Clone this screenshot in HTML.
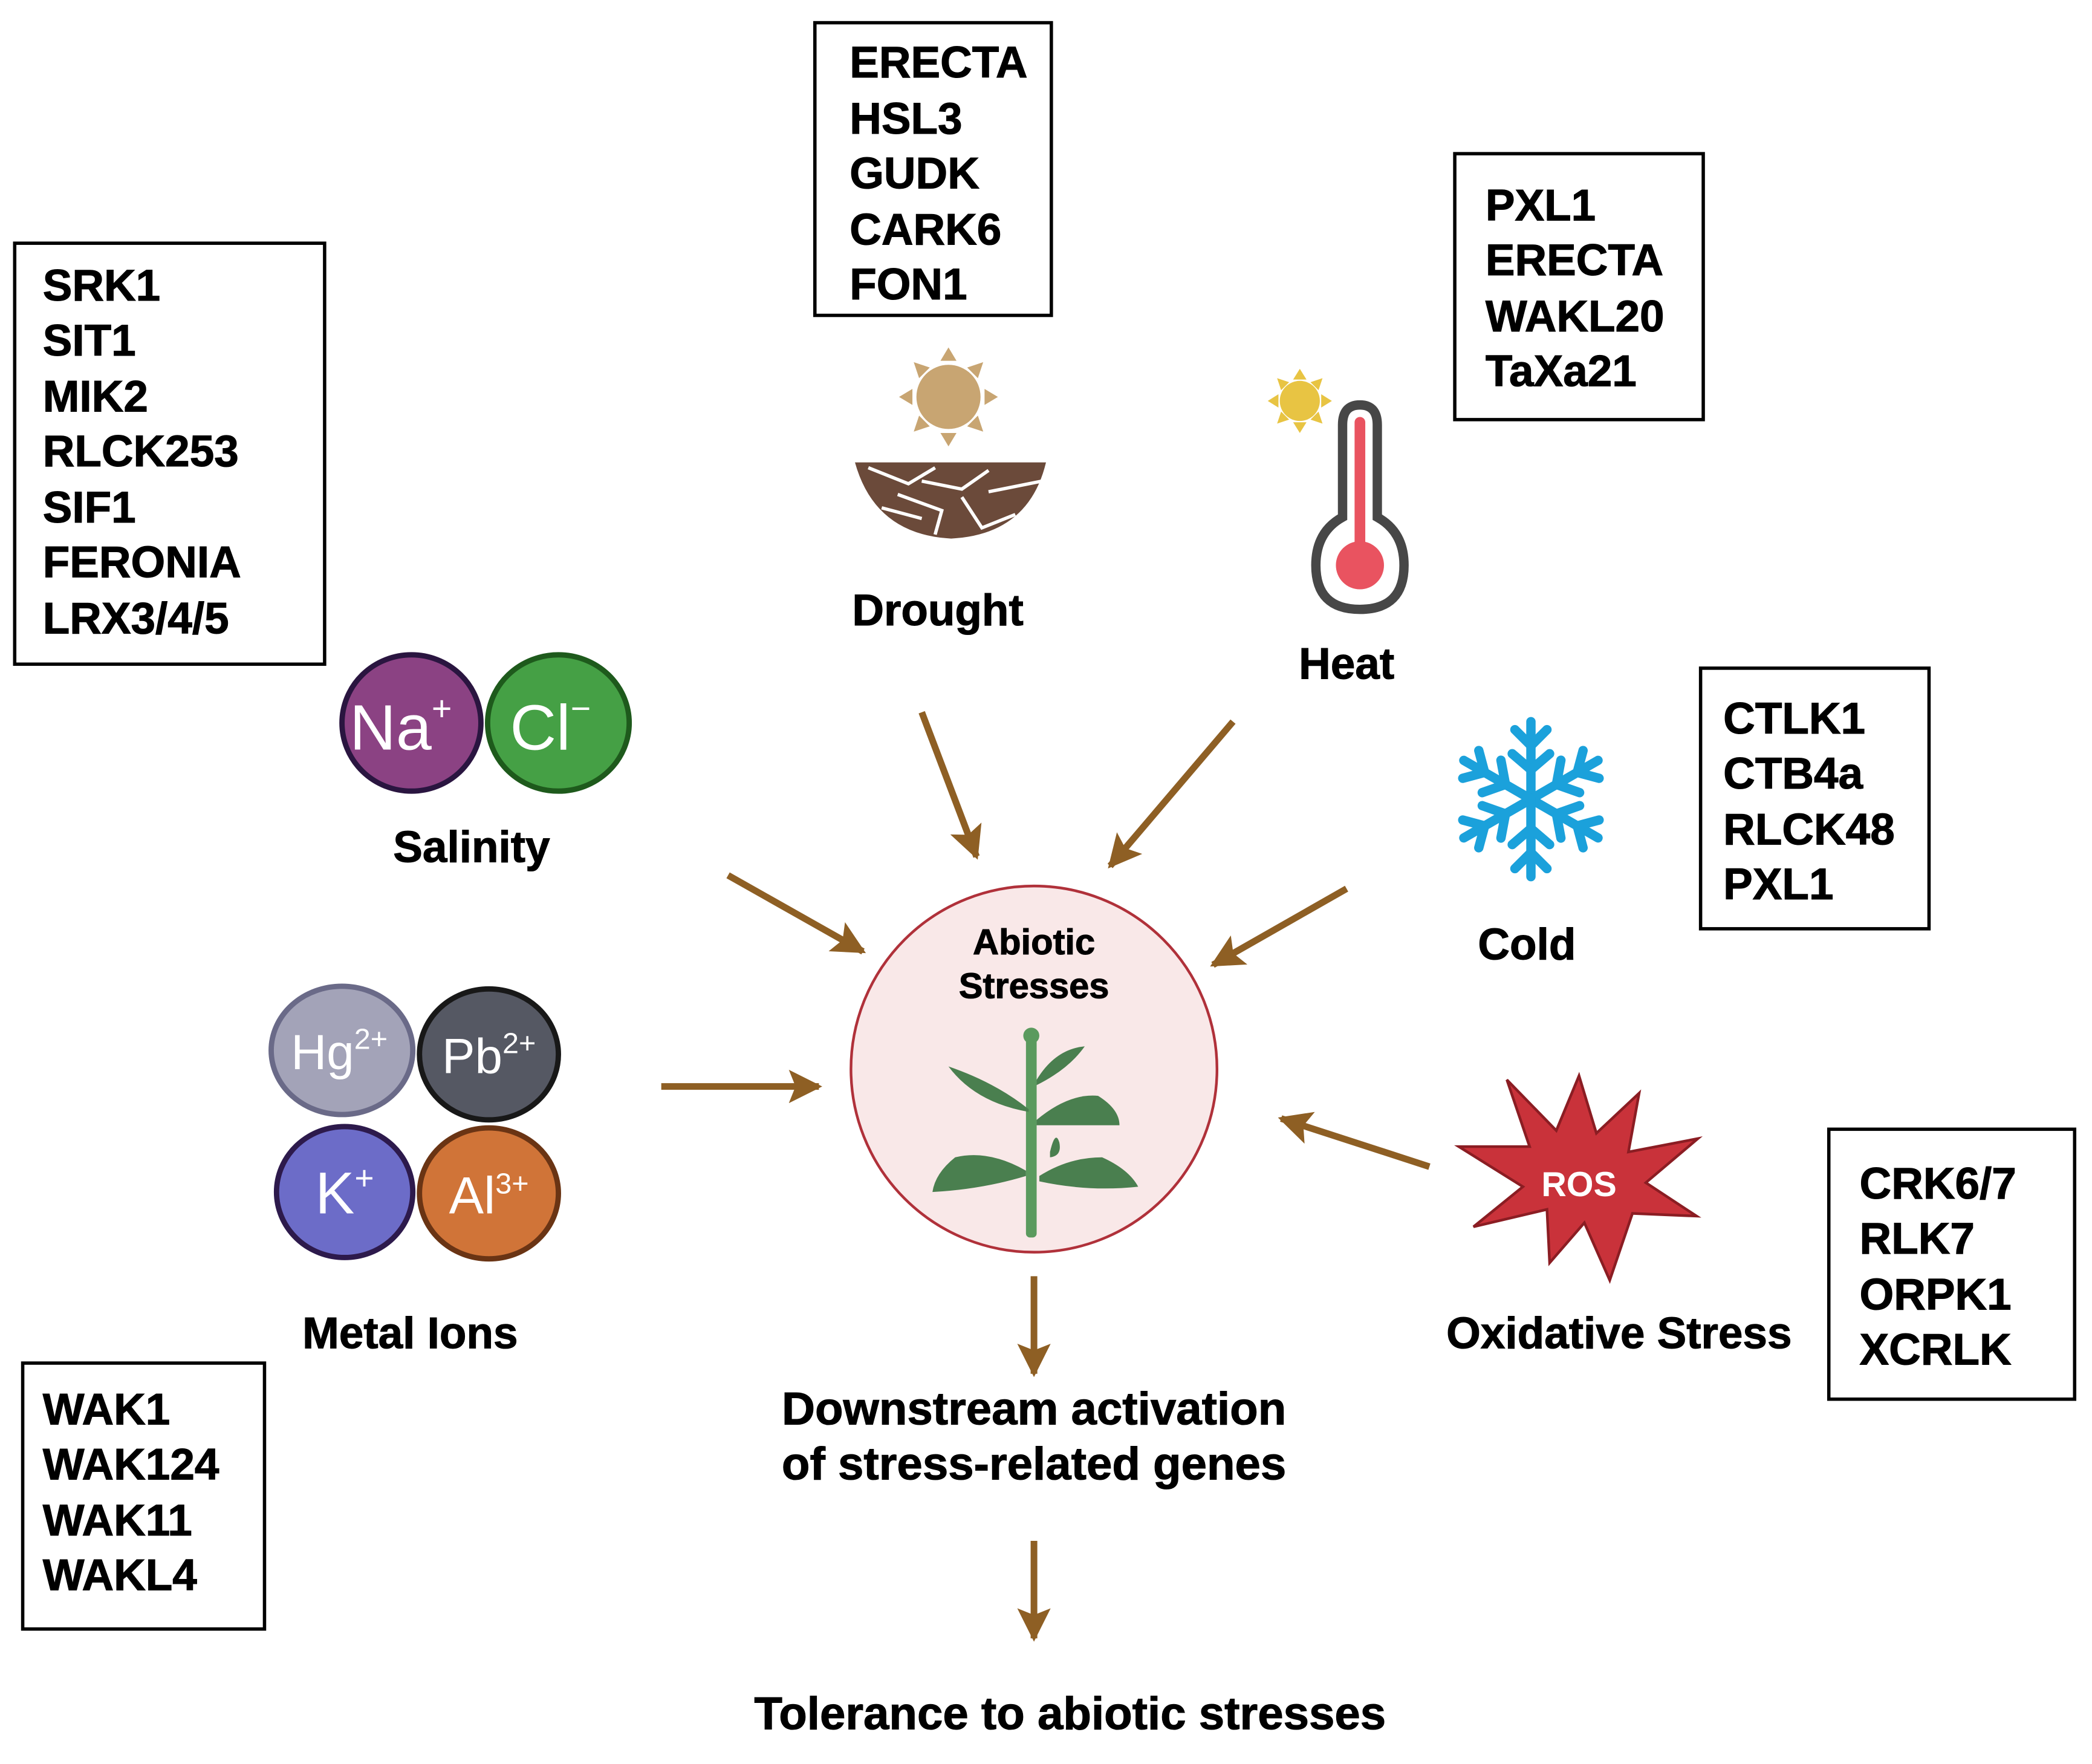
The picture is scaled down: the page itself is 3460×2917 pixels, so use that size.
<!DOCTYPE html>
<html><head><meta charset="utf-8"><style>
html,body{margin:0;padding:0;background:#fff;}
svg{display:block;}
text{font-family:"Liberation Sans",sans-serif;}
.b{font-weight:bold;fill:#000;stroke:#000;stroke-width:0.5;}
</style></head><body>
<svg width="3460" height="2917" viewBox="0 0 1566 1320" preserveAspectRatio="none" xmlns="http://www.w3.org/2000/svg">
<defs>
<marker id="ah" viewBox="0 0 10 10" refX="9" refY="5" markerWidth="5" markerHeight="5" orient="auto" markerUnits="strokeWidth">
<path d="M0,0 L10,5 L0,10 L2,5 z" fill="#8E5F24"/></marker>
</defs>
<g fill="none" stroke="#000" stroke-width="2.5">
<rect x="11" y="182" width="232" height="315"/>
<rect x="610" y="17" width="177" height="219"/>
<rect x="1089" y="115" width="186" height="199"/>
<rect x="1273" y="500" width="171" height="195"/>
<rect x="1369" y="845" width="184" height="202"/>
<rect x="17" y="1020" width="181" height="199"/>
</g>
<g class="b" font-size="33" font-weight="bold">
<text x="32" y="225">SRK1</text><text x="32" y="266">SIT1</text><text x="32" y="308">MIK2</text><text x="32" y="349">RLCK253</text><text x="32" y="391">SIF1</text><text x="32" y="432">FERONIA</text><text x="32" y="474">LRX3/4/5</text>
<text x="636" y="58">ERECTA</text><text x="636" y="100">HSL3</text><text x="636" y="141">GUDK</text><text x="636" y="183">CARK6</text><text x="636" y="224">FON1</text>
<text x="1112" y="165">PXL1</text><text x="1112" y="206">ERECTA</text><text x="1112" y="248">WAKL20</text><text x="1112" y="289">TaXa21</text>
<text x="1290" y="549">CTLK1</text><text x="1290" y="590">CTB4a</text><text x="1290" y="632">RLCK48</text><text x="1290" y="673">PXL1</text>
<text x="1392" y="897">CRK6/7</text><text x="1392" y="938">RLK7</text><text x="1392" y="980">ORPK1</text><text x="1392" y="1021">XCRLK</text>
<text x="32" y="1066">WAK1</text><text x="32" y="1107">WAK124</text><text x="32" y="1149">WAK11</text><text x="32" y="1190">WAKL4</text>
</g>
<g class="b" font-size="33" font-weight="bold" text-anchor="middle">
<text x="702" y="468">Drought</text>
<text x="1008" y="508">Heat</text>
<text x="1143" y="718">Cold</text>
<text x="353" y="645">Salinity</text>
<text x="307" y="1009">Metal Ions</text>
<text x="1212" y="1009">Oxidative Stress</text>
</g>
<g class="b" font-size="34.5" font-weight="bold" text-anchor="middle">
<text x="774" y="1066">Downstream activation</text>
<text x="774" y="1107">of stress-related genes</text>
<text x="801" y="1294">Tolerance to abiotic stresses</text>
</g>
<circle cx="774" cy="800" r="137" fill="#F9E8E8" stroke="#B0313A" stroke-width="2"/>
<g class="b" font-size="27" font-weight="bold" text-anchor="middle">
<text x="774" y="714">Abiotic</text><text x="774" y="747">Stresses</text>
</g>
<g fill="#4A7F4F" stroke="none">
<rect x="768" y="776" width="8" height="150" rx="3" fill="#5B9A5E"/>
<circle cx="772" cy="775" r="6" fill="#5B9A5E"/>
<path d="M770,830 Q745,810 710,798 Q730,825 770,832z"/>
<path d="M776,812 Q800,800 812,783 Q790,785 776,808z"/>
<path d="M776,838 Q800,818 822,820 Q838,830 838,842 Q810,842 776,842z"/>
<path d="M768,876 Q740,860 715,866 Q700,878 698,892 Q735,890 768,880z"/>
<path d="M778,880 Q800,866 825,866 Q845,875 852,888 Q815,892 778,884z"/>
<path d="M786,862 Q790,845 793,855 Q795,865 786,866z"/>
</g>
<g stroke="#8E5F24" stroke-width="5" fill="none" marker-end="url(#ah)" stroke-linecap="butt">
<line x1="690" y1="533" x2="731" y2="641"/>
<line x1="923" y1="540" x2="831" y2="648"/>
<line x1="1008" y1="665" x2="908" y2="722"/>
<line x1="545" y1="655" x2="646" y2="712"/>
<line x1="495" y1="813" x2="613" y2="813"/>
<line x1="1070" y1="873" x2="959" y2="837"/>
<line x1="774" y1="955" x2="774" y2="1028"/>
<line x1="774" y1="1153" x2="774" y2="1226"/>
</g>
<g fill="#C8A572">
<circle cx="710" cy="297" r="24"/>
<polygon points="710,260 704,270 716,270"/><polygon points="710,334 704,324 716,324"/>
<polygon points="673,297 683,291 683,303"/><polygon points="747,297 737,291 737,303"/>
<polygon points="684,271 696,275 688,283"/><polygon points="736,271 724,275 732,283"/>
<polygon points="684,323 696,319 688,311"/><polygon points="736,323 724,319 732,311"/>
</g>
<path d="M640,346 L783,346 Q770,400 712,403 Q655,400 640,346z" fill="#6B4A3A"/>
<g stroke="#fff" stroke-width="2.5" fill="none">
<path d="M650,350 L680,362 L700,350 M690,360 L720,366 L740,352 M740,368 L780,360 M672,370 L705,382 L700,400 M720,372 L735,395 L760,385 M660,380 L690,388"/>
</g>
<g fill="#E8C443">
<circle cx="973" cy="300" r="15"/>
<polygon points="973,276 968,284 978,284"/><polygon points="973,324 968,316 978,316"/>
<polygon points="949,300 957,295 957,305"/><polygon points="997,300 989,295 989,305"/>
<polygon points="956,283 965,286 959,292"/><polygon points="990,283 981,286 987,292"/>
<polygon points="956,317 965,314 959,308"/><polygon points="990,317 981,314 987,308"/>
</g>
<path d="M1005,318 Q1005,303 1018,303 Q1031,303 1031,318 L1031,387 Q1051,398 1051,423 Q1051,456 1018,456 Q985,456 985,423 Q985,398 1005,387z" fill="#fff" stroke="#474747" stroke-width="7"/>
<rect x="1014" y="312" width="8" height="100" rx="4" fill="#E95360"/>
<circle cx="1018" cy="423" r="18" fill="#E95360"/>
<g stroke="#1BA1DB" stroke-width="7" stroke-linecap="round" fill="none" transform="translate(1146,598)">
<g id="arm"><line x1="0" y1="0" x2="0" y2="-58"/><path d="M-12,-52 L0,-40 L12,-52 M-14,-34 L0,-22 L14,-34"/></g>
<use href="#arm" transform="rotate(60)"/><use href="#arm" transform="rotate(120)"/><use href="#arm" transform="rotate(180)"/><use href="#arm" transform="rotate(240)"/><use href="#arm" transform="rotate(300)"/>
</g>
<polygon points="1182,805 1195,848 1227,818 1219,862 1271,852 1232,885 1270,910 1222,908 1205,958 1186,915 1160,945 1158,905 1103,918 1140,888 1092,858 1145,858 1128,808 1165,846" fill="#C9323A" stroke="#8B1D23" stroke-width="2"/>
<text x="1182" y="895" text-anchor="middle" font-size="26" font-weight="bold" fill="#fff">ROS</text>
<ellipse cx="308" cy="541" rx="52" ry="51" fill="#8B4283" stroke="#2A1540" stroke-width="4"/>
<ellipse cx="418" cy="541" rx="53" ry="51" fill="#45A045" stroke="#1E5A1C" stroke-width="4"/>
<text x="300" y="561" text-anchor="middle" font-size="48" fill="#fff">Na<tspan font-size="26" dy="-22">+</tspan></text>
<text x="412" y="561" text-anchor="middle" font-size="48" fill="#fff">Cl<tspan font-size="26" dy="-22">−</tspan></text>
<ellipse cx="256" cy="786" rx="53" ry="48" fill="#A3A3B8" stroke="#6A6A88" stroke-width="4"/>
<ellipse cx="366" cy="789" rx="52" ry="49" fill="#555863" stroke="#181818" stroke-width="4"/>
<ellipse cx="258" cy="892" rx="51" ry="49" fill="#6C6CC8" stroke="#2D1A4C" stroke-width="4"/>
<ellipse cx="366" cy="893" rx="52" ry="49" fill="#D07438" stroke="#6A3414" stroke-width="4"/>
<text x="254" y="800" text-anchor="middle" font-size="37" fill="#fff">Hg<tspan font-size="22" dy="-15">2+</tspan></text>
<text x="366" y="803" text-anchor="middle" font-size="37" fill="#fff">Pb<tspan font-size="22" dy="-15">2+</tspan></text>
<text x="258" y="908" text-anchor="middle" font-size="44" fill="#fff">K<tspan font-size="25" dy="-18">+</tspan></text>
<text x="366" y="908" text-anchor="middle" font-size="39" fill="#fff">Al<tspan font-size="22" dy="-15">3+</tspan></text>
</svg>
</body></html>
